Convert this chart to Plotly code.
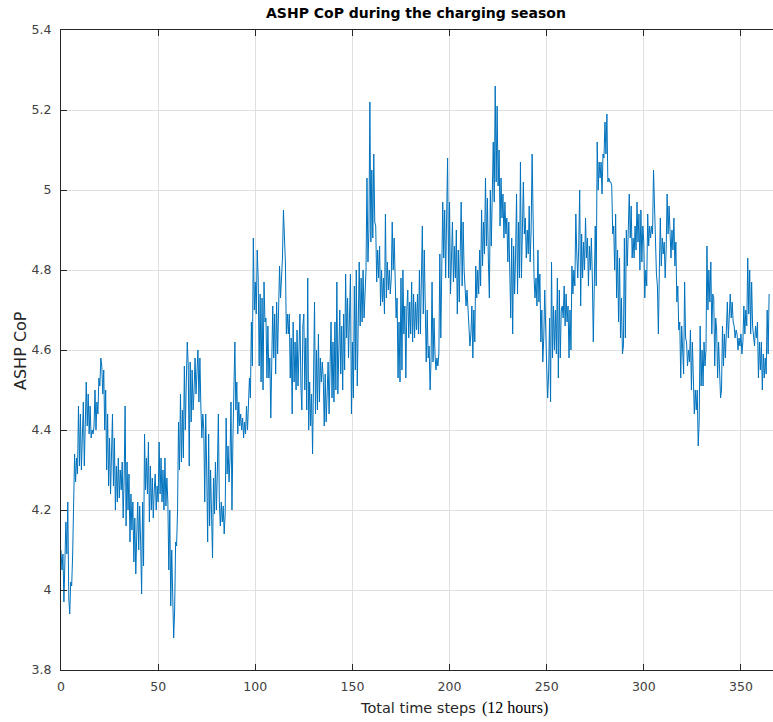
import numpy as np
import plotly.graph_objects as go

# ASHP coefficient of performance, two 12-hour steps per day
cop_days_000_090 = [
    4.10, 4.05, 4.09, 3.97, 4.07, 4.17, 4.09, 4.22, 3.98, 3.94,
    4.02, 4.01, 4.09, 4.28, 4.34, 4.27, 4.33, 4.29, 4.46, 4.31,
    4.44, 4.30, 4.38, 4.47, 4.31, 4.42, 4.52, 4.41, 4.49, 4.39,
    4.46, 4.38, 4.40, 4.39, 4.41, 4.50, 4.40, 4.47, 4.44, 4.53,
    4.51, 4.58, 4.56, 4.49, 4.55, 4.40, 4.50, 4.30, 4.44, 4.26,
    4.38, 4.24, 4.34, 4.44, 4.26, 4.38, 4.20, 4.31, 4.22, 4.33,
    4.23, 4.30, 4.25, 4.32, 4.18, 4.28, 4.46, 4.16, 4.32, 4.20,
    4.29, 4.12, 4.24, 4.15, 4.22, 4.07, 4.18, 4.04, 4.14, 4.22,
    4.10, 4.21, 4.12, 3.99, 4.22, 4.06, 4.39, 4.25, 4.33, 4.24,
    4.37, 4.17, 4.31, 4.20, 4.28, 4.18, 4.25, 4.29, 4.20, 4.26,
    4.22, 4.37, 4.24, 4.33, 4.22, 4.30, 4.20, 4.33, 4.21, 4.28,
    4.22, 4.05, 4.20, 3.96, 4.10, 3.98, 3.88, 3.95, 4.12, 4.11,
    4.20, 4.42, 4.30, 4.49, 4.32, 4.45, 4.33, 4.56, 4.40, 4.52,
    4.62, 4.56, 4.31, 4.57, 4.42, 4.55, 4.45, 4.50, 4.58, 4.49,
    4.55, 4.60, 4.47, 4.58, 4.46, 4.38, 4.44, 4.40, 4.22, 4.44,
    4.30, 4.12, 4.39, 4.16, 4.30, 4.22, 4.08, 4.28, 4.19, 4.32,
    4.20, 4.30, 4.44, 4.22, 4.16, 4.22, 4.17, 4.21, 4.14, 4.19,
    4.43, 4.29, 4.36, 4.27, 4.33, 4.47, 4.20, 4.38, 4.52, 4.62,
]
cop_days_090_180 = [
    4.45, 4.52, 4.39, 4.47, 4.41, 4.44, 4.40, 4.43, 4.38, 4.42,
    4.39, 4.46, 4.40, 4.48, 4.53, 4.48, 4.67, 4.56, 4.88, 4.70,
    4.77, 4.69, 4.85, 4.78, 4.56, 4.74, 4.52, 4.73, 4.50, 4.77,
    4.67, 4.68, 4.53, 4.66, 4.53, 4.58, 4.43, 4.57, 4.71, 4.58,
    4.69, 4.54, 4.72, 4.59, 4.67, 4.81, 4.73, 4.79, 4.83, 4.95,
    4.90, 4.82, 4.64, 4.69, 4.64, 4.69, 4.53, 4.63, 4.44, 4.67,
    4.52, 4.62, 4.50, 4.65, 4.51, 4.62, 4.69, 4.51, 4.45, 4.66,
    4.69, 4.50, 4.63, 4.45, 4.78, 4.40, 4.52, 4.41, 4.49, 4.34,
    4.48, 4.72, 4.44, 4.60, 4.45, 4.64, 4.47, 4.58, 4.52, 4.57,
    4.53, 4.41, 4.54, 4.42, 4.49, 4.57, 4.44, 4.60, 4.67, 4.48,
    4.62, 4.47, 4.67, 4.50, 4.77, 4.49, 4.60, 4.70, 4.54, 4.66,
    4.50, 4.69, 4.55, 4.79, 4.63, 4.73, 4.58, 4.70, 4.79, 4.44,
    4.62, 4.48, 4.76, 4.55, 4.80, 4.51, 4.72, 4.82, 4.66, 4.78,
    4.67, 4.80, 4.68, 4.77, 4.80, 5.03, 4.82, 4.90, 5.22, 4.87,
    5.05, 4.88, 5.09, 4.92, 4.91, 4.77, 4.85, 4.78, 4.86, 4.71,
    4.80, 4.72, 4.78, 4.69, 4.94, 4.73, 4.82, 4.75, 4.80, 4.74,
    4.78, 4.92, 4.80, 4.88, 4.74, 4.68, 4.73, 4.53, 4.67, 4.52,
    4.78, 4.55, 4.80, 4.64, 4.71, 4.53, 4.70, 4.75, 4.63, 4.72,
]
cop_days_180_270 = [
    4.64, 4.77, 4.62, 4.74, 4.63, 4.72, 4.65, 4.74, 4.64, 4.80,
    4.64, 4.76, 4.91, 4.69, 4.85, 4.71, 4.57, 4.70, 4.58, 4.61,
    4.50, 4.58, 4.77, 4.57, 4.68, 4.59, 4.55, 4.58, 4.56, 4.59,
    4.84, 4.63, 4.78, 4.97, 4.83, 4.95, 4.78, 4.90, 5.08, 4.78,
    4.97, 4.74, 4.88, 4.92, 4.77, 4.86, 4.78, 4.90, 4.69, 4.85,
    4.72, 4.82, 4.97, 4.76, 4.92, 4.80, 4.76, 4.71, 4.75, 4.70,
    4.66, 4.61, 4.64, 4.71, 4.58, 4.70, 4.62, 4.81, 4.73, 4.80,
    4.74, 4.85, 4.76, 4.95, 4.81, 4.92, 4.84, 5.03, 4.86, 4.98,
    4.82, 4.73, 5.00, 4.86, 4.99, 5.12, 4.97, 5.26, 5.02, 5.21,
    5.01, 5.10, 4.91, 5.03, 4.93, 4.99, 4.88, 4.97, 4.89, 4.93,
    4.82, 4.92, 4.80, 4.68, 4.88, 4.64, 4.86, 4.74, 4.84, 4.99,
    4.74, 4.92, 4.78, 5.07, 4.78, 4.95, 5.02, 4.89, 4.93, 4.83,
    4.90, 4.84, 4.96, 4.82, 4.90, 5.09, 4.86, 4.78, 4.73, 4.78,
    4.71, 4.85, 4.72, 4.79, 4.62, 4.70, 4.57, 4.63, 4.75, 4.62,
    4.56, 4.48, 4.54, 4.68, 4.47, 4.82, 4.58, 4.71, 4.60, 4.70,
    4.59, 4.78, 4.53, 4.75, 4.58, 4.70, 4.71, 4.68, 4.76, 4.66,
    4.74, 4.67, 4.71, 4.58, 4.70, 4.60, 4.81, 4.74, 4.80, 4.76,
    4.94, 4.84, 4.78, 4.86, 5.00, 4.71, 4.89, 4.78, 4.87, 4.80,
]
cop_days_270_365 = [
    4.93, 4.83, 4.88, 4.76, 4.86, 4.80, 4.88, 4.78, 4.62, 4.76,
    4.91, 4.76, 5.12, 5.00, 5.07, 5.03, 5.07, 4.99, 5.09, 5.08,
    5.17, 5.09, 5.19, 5.02, 5.03, 5.02, 5.02, 5.01, 4.89, 4.91,
    4.80, 4.94, 4.73, 4.85, 4.67, 4.83, 4.63, 4.73, 4.59, 4.61,
    4.88, 4.63, 4.90, 4.81, 4.88, 4.99, 4.88, 4.96, 4.83, 4.88,
    4.83, 4.91, 4.85, 4.97, 4.87, 4.94, 4.80, 4.95, 4.82, 4.91,
    4.87, 4.73, 4.80, 4.76, 4.94, 4.86, 4.91, 4.88, 4.91, 4.89,
    5.05, 4.95, 4.90, 4.79, 4.76, 4.64, 4.80, 4.93, 4.81, 4.88,
    4.84, 4.87, 4.78, 4.85, 4.99, 4.89, 4.96, 4.91, 4.83, 4.90,
    4.85, 4.93, 4.81, 4.87, 4.72, 4.76, 4.65, 4.67, 4.53, 4.66,
    4.60, 4.54, 4.77, 4.63, 4.62, 4.56, 4.60, 4.57, 4.65, 4.50,
    4.62, 4.51, 4.44, 4.50, 4.45, 4.50, 4.36, 4.42, 4.66, 4.51,
    4.60, 4.51, 4.62, 4.56, 4.60, 4.86, 4.70, 4.80, 4.72, 4.82,
    4.64, 4.74, 4.73, 4.56, 4.68, 4.65, 4.53, 4.62, 4.51, 4.48,
    4.50, 4.66, 4.56, 4.64, 4.58, 4.66, 4.72, 4.63, 4.70, 4.74,
    4.68, 4.72, 4.67, 4.66, 4.63, 4.65, 4.64, 4.60, 4.63, 4.61,
    4.64, 4.59, 4.62, 4.71, 4.64, 4.70, 4.66, 4.83, 4.69, 4.80,
    4.64, 4.77, 4.66, 4.64, 4.61, 4.66, 4.63, 4.67, 4.53, 4.62,
    4.55, 4.62, 4.50, 4.59, 4.53, 4.58, 4.54, 4.70, 4.59, 4.74,
]

x_tick_values = [0, 50, 100, 150, 200, 250, 300, 350]
y_tick_values = [3.8, 4.0, 4.2, 4.4, 4.6, 4.8, 5.0, 5.2, 5.4]
y_tick_labels = ["3.8", "4", "4.2", "4.4", "4.6", "4.8", "5", "5.2", "5.4"]

cop = cop_days_000_090 + cop_days_090_180 + cop_days_180_270 + cop_days_270_365
steps = np.arange(len(cop)) / 2.0  # 12-hour steps expressed in days

AX = "#262626"
GRID = "#dfdfdf"
SANS = "DejaVu Sans, Verdana, Arial, sans-serif"
SERIF = "Liberation Serif, Times New Roman, serif"

fig = go.Figure(
    go.Scatter(
        x=steps,
        y=cop,
        mode="lines",
        line=dict(color="#0072BD", width=1),
        hoverinfo="x+y",
    )
)

axis_common = dict(
    showline=True,
    linecolor=AX,
    linewidth=1,
    ticks="inside",
    ticklen=6,
    tickwidth=1,
    tickcolor=AX,
    showgrid=True,
    gridcolor=GRID,
    gridwidth=1,
    zeroline=False,
    tickfont=dict(family=SANS, size=12.5, color="#404040"),
)

fig.update_xaxes(
    range=[0, 366.5],
    tickvals=x_tick_values,
    mirror="ticks",
    ticklabelstandoff=5,
    **axis_common,
)
fig.update_yaxes(
    range=[3.8, 5.4],
    tickvals=y_tick_values,
    ticktext=y_tick_labels,
    mirror=False,
    ticklabelstandoff=6,
    **axis_common,
)

fig.update_layout(
    width=773,
    height=722,
    margin=dict(l=61, r=0, t=30, b=52),
    paper_bgcolor="white",
    plot_bgcolor="white",
    showlegend=False,
    annotations=[
        dict(
            text="<b>ASHP CoP during the charging season</b>",
            xref="paper", yref="paper",
            x=0.4986, y=1.0266,
            xanchor="center", yanchor="middle",
            showarrow=False,
            font=dict(family=SANS, size=14, color="black"),
        ),
        # x-axis title: sans part followed by the serif unit
        dict(
            text="Total time steps",
            xref="paper", yref="paper",
            x=0.5857, y=-0.0594,
            xanchor="right", yanchor="middle",
            showarrow=False,
            font=dict(family=SANS, size=14.5, color=AX),
        ),
        dict(
            text="(12 hours)",
            xref="paper", yref="paper",
            x=0.5885, y=-0.0594,
            xanchor="left", yanchor="middle",
            showarrow=False,
            font=dict(family=SERIF, size=16, color="black"),
        ),
        dict(
            text="ASHP CoP",
            xref="paper", yref="paper",
            x=-0.0576, y=0.5,
            xanchor="center", yanchor="middle",
            textangle=-90,
            showarrow=False,
            font=dict(family=SANS, size=16, color=AX),
        ),
    ],
)

fig.write_html("out.html")
